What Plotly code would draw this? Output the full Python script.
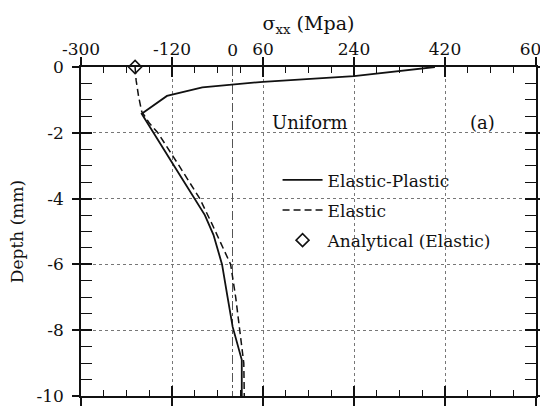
import plotly.graph_objects as go

# Data
ep_stress = [400, 240, 60, -60, -130, -180, -116, -55, -38, -21, -10, 0, 18, 18]
ep_depth = [0, -0.28, -0.45, -0.62, -0.88, -1.42, -3.0, -4.5, -5.1, -6.0, -7.0, -7.9, -8.9, -10]

el_stress = [-193, -191, -186, -180, -165, -148, -106, -65, -40, -17, -4, 6, 14, 22, 23]
el_depth = [0, -0.4, -0.9, -1.35, -1.7, -2.0, -3.0, -4.0, -4.8, -5.56, -6.0, -7.0, -8.0, -9.0, -10]

an_stress = [-193]
an_depth = [0]

x_major = [-300, -120, 60, 240, 420, 600]
x_labels = ["-300", "-120", "60", "240", "420", "600"]
x_minor = [v for v in range(-300, 601, 45) if v not in x_major]
y_major = [0, -2, -4, -6, -8, -10]
y_labels = ["0", "-2", "-4", "-6", "-8", "-10"]
y_minor = [-0.5 * k for k in range(21) if (k % 4) != 0]

FONT = "DejaVu Serif"
FS = 17
BLACK = "#111111"

fig = go.Figure()
fig.add_trace(go.Scatter(x=ep_stress, y=ep_depth, mode="lines", name="Elastic-Plastic",
                         legendgroup="a", line=dict(color=BLACK, width=1.8)))
fig.add_trace(go.Scatter(x=el_stress, y=el_depth, mode="lines", name="Elastic",
                         legendgroup="b", line=dict(color=BLACK, width=1.5, dash="7px,4px")))
fig.add_trace(go.Scatter(x=an_stress, y=an_depth, mode="markers", name="Analytical (Elastic)",
                         legendgroup="c",
                         marker=dict(symbol="diamond-open", size=10, color=BLACK,
                                     line=dict(width=1.6, color=BLACK)),
                         cliponaxis=False))
# helper traces for overlay axes
fig.add_trace(go.Scatter(x=[], y=[], xaxis="x2", yaxis="y2", showlegend=False))
fig.add_trace(go.Scatter(x=[], y=[], xaxis="x3", yaxis="y", showlegend=False))

axis_common = dict(showline=True, linecolor=BLACK, linewidth=1.6, zeroline=False,
                   automargin=False)

fig.update_layout(
    width=540, height=408,
    margin=dict(l=81, r=4, t=67, b=12),
    paper_bgcolor="white", plot_bgcolor="white",
    font=dict(family=FONT, size=FS, color=BLACK),
    showlegend=True,
    legend=dict(x=0.432, y=0.71, xanchor="left", yanchor="top",
                bgcolor="rgba(0,0,0,0)", font=dict(family=FONT, size=FS),
                itemwidth=40, tracegroupgap=5),
    xaxis=dict(
        range=[-300, 600], side="top", tickmode="array", tickvals=x_major, ticktext=x_labels,
        ticks="inside", ticklen=10, tickwidth=1.6, tickcolor=BLACK, mirror="allticks",
        showgrid=True, gridcolor="#777777", griddash="dot", gridwidth=1,
        minor=dict(tickmode="array", tickvals=x_minor, ticks="inside", ticklen=6,
                   tickwidth=1.4, tickcolor=BLACK, showgrid=False),
        ticklabelstandoff=3, ticklabeloverflow="allow",
        tickfont=dict(family=FONT, size=FS),
        title=dict(text="σ<sub>xx</sub> (Mpa)", standoff=4, font=dict(family=FONT, size=19)),
        **axis_common),
    xaxis2=dict(
        range=[-300, 600], overlaying="x", side="top", anchor="y2", tickmode="array",
        tickvals=x_major, ticks="outside", ticklen=9, tickwidth=1.6, tickcolor=BLACK,
        mirror="allticks", showticklabels=False, showgrid=False, showline=False, zeroline=False,
        automargin=False),
    xaxis3=dict(
        range=[-300, 600], overlaying="x", side="top", anchor="y", tickmode="array",
        tickvals=[0], ticktext=["0"], ticks="", showgrid=True, gridcolor="#555555",
        griddash="dashdot", gridwidth=1, showline=False, zeroline=False, ticklabelstandoff=7,
        tickfont=dict(family=FONT, size=FS), automargin=False),
    yaxis=dict(
        range=[-10, 0], tickmode="array", tickvals=y_major, ticktext=y_labels,
        ticks="inside", ticklen=11, tickwidth=1.6, tickcolor=BLACK, mirror="allticks",
        showgrid=True, gridcolor="#777777", griddash="dot", gridwidth=1,
        minor=dict(tickmode="array", tickvals=y_minor, ticks="inside", ticklen=6,
                   tickwidth=1.4, tickcolor=BLACK, showgrid=False),
        ticklabelstandoff=12, tickfont=dict(family=FONT, size=FS),
        title=dict(text="Depth (mm)", standoff=8, font=dict(family=FONT, size=FS)),
        **axis_common),
    yaxis2=dict(
        range=[-10, 0], overlaying="y", anchor="x2", tickmode="array", tickvals=y_major,
        ticks="outside", ticklen=8, tickwidth=1.6, tickcolor=BLACK, mirror="allticks",
        showticklabels=False, showgrid=False, showline=False, zeroline=False, automargin=False),
    annotations=[
        dict(x=153, y=-1.7, xref="x", yref="y", text="Uniform", showarrow=False,
             font=dict(family=FONT, size=18, color=BLACK)),
        dict(x=495, y=-1.7, xref="x", yref="y", text="(a)", showarrow=False,
             font=dict(family=FONT, size=18, color=BLACK)),
    ],
)

fig.write_html("out.html")
